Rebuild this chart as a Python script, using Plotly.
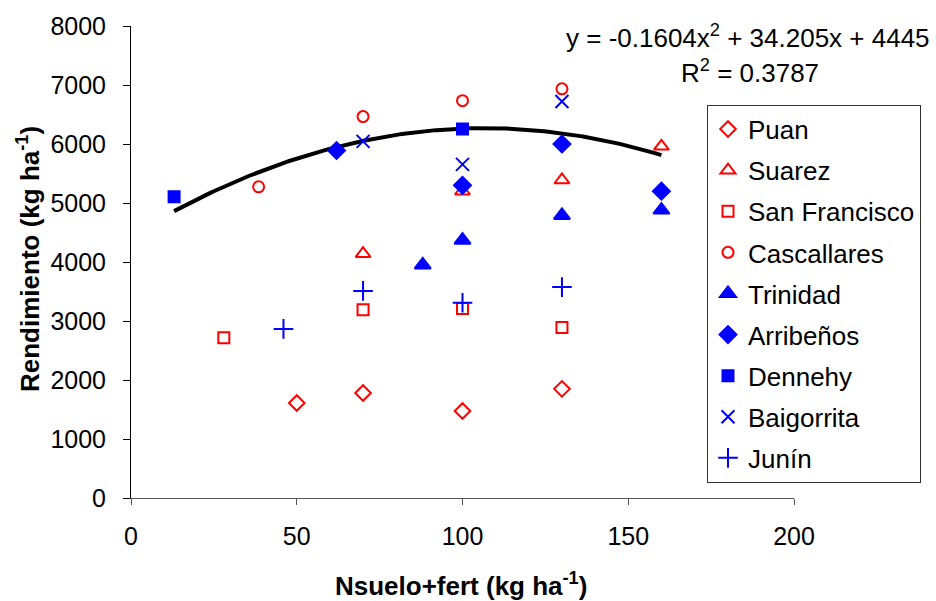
import numpy as np
import plotly.graph_objects as go

# Yield (kg/ha) against soil N + fertilizer N (kg/ha), by site
puan_x = [50, 70, 100, 130]
puan_y = [1610, 1780, 1475, 1850]
suarez_x = [70, 100, 130, 160]
suarez_y = [4140, 5200, 5390, 5960]
sanfco_x = [28, 70, 100, 130]
sanfco_y = [2715, 3190, 3210, 2890]
cascallares_x = [38.5, 70, 100, 130]
cascallares_y = [5275, 6465, 6735, 6935]
trinidad_x = [88, 100, 130, 160]
trinidad_y = [3950, 4370, 4790, 4880]
arribenos_x = [62, 100, 130, 160]
arribenos_y = [5890, 5300, 6000, 5200]
dennehy_x = [13, 100]
dennehy_y = [5105, 6255]
baigorrita_x = [70, 100, 130]
baigorrita_y = [6045, 5655, 6720]
junin_x = [46, 70, 100, 130]
junin_y = [2866, 3510, 3310, 3575]

# Quadratic trend coefficients (a*x^2 + b*x + c) and fit statistic
trend_coef = [-0.1604, 34.205, 4445]
trend_r2 = 0.3787

x_ticks = [0, 50, 100, 150, 200]
y_ticks = [0, 1000, 2000, 3000, 4000, 5000, 6000, 7000, 8000]

RED = "#FF0000"
BLUE = "#0000FF"
FONT = "Liberation Sans, Arial, sans-serif"

series = [
    ("Puan", puan_x, puan_y, "diamond-open", RED, 12),
    ("Suarez", suarez_x, suarez_y, "triangle-up-open", RED, 13),
    ("San Francisco", sanfco_x, sanfco_y, "square-open", RED, 11),
    ("Cascallares", cascallares_x, cascallares_y, "circle-open", RED, 11),
    ("Trinidad", trinidad_x, trinidad_y, "triangle-up", BLUE, 14),
    ("Arribeños", arribenos_x, arribenos_y, "diamond", BLUE, 13),
    ("Dennehy", dennehy_x, dennehy_y, "square", BLUE, 11),
    ("Baigorrita", baigorrita_x, baigorrita_y, "x-thin-open", BLUE, 13),
    ("Junín", junin_x, junin_y, "cross-thin-open", BLUE, 14),
]

fig = go.Figure()

# Trend curve over the observed N range
all_x = puan_x + suarez_x + sanfco_x + cascallares_x + trinidad_x + arribenos_x + dennehy_x + baigorrita_x + junin_x
tx = np.linspace(min(all_x), max(all_x), 200)
ty = np.polyval(trend_coef, tx)
fig.add_trace(go.Scatter(x=tx, y=ty, mode="lines", line=dict(color="black", width=4),
                         showlegend=False, hoverinfo="skip"))

for i, (name, xs, ys, sym, col, size) in enumerate(series):
    fig.add_trace(go.Scatter(
        x=xs, y=ys, mode="markers", name=name, legendgroup=f"g{i}",
        marker=dict(symbol=sym, size=size, color=col,
                    line=dict(color=col, width=2)),
    ))

W, H = 936, 601
L, R, T, B = 131, 142, 24, 103
pw, ph = W - L - R, H - T - B


def px(xp):
    return (xp - L) / pw


def py(yp):
    return (H - B - yp) / ph


a, b, c = trend_coef
eq_text = f"y = {a}x<sup>2</sup> + {b}x + {c}"
r2_text = f"R<sup>2</sup> = {trend_r2}"


def label(text, xp, yp, size=26, angle=0):
    return dict(text=text, x=px(xp), y=py(yp), xref="paper", yref="paper",
                xanchor="center", yanchor="middle", showarrow=False,
                textangle=angle, font=dict(size=size))


fig.update_layout(
    width=W, height=H, autosize=False,
    margin=dict(l=L, r=R, t=T, b=B, pad=0),
    paper_bgcolor="white", plot_bgcolor="white",
    font=dict(family=FONT, size=25, color="black"),
    xaxis=dict(range=[0, 200], tickvals=x_ticks, showgrid=False, zeroline=False,
               showline=True, linecolor="#555555", linewidth=1,
               ticks="outside", ticklen=6, tickcolor="#555555",
               tickfont=dict(size=25), ticklabelstandoff=10),
    yaxis=dict(range=[0, 8000], tickvals=y_ticks, showgrid=False, zeroline=False,
               showline=True, linecolor="black", linewidth=1,
               ticks="outside", ticklen=7, tickcolor="black",
               tickfont=dict(size=25), ticklabelstandoff=12),
    legend=dict(x=px(707), y=py(103), xanchor="left", yanchor="top",
                bordercolor="#333333", borderwidth=1, bgcolor="white",
                font=dict(size=26), tracegroupgap=4.3, itemwidth=30),
    showlegend=True,
    annotations=[
        label("<b>Nsuelo+fert (kg ha<sup>-1</sup>)</b>", 461, 585),
        label("<b>Rendimiento (kg ha<sup>-1</sup>)</b>", 28.5, 258.5, angle=-90),
        label(eq_text, 748, 35),
        label(r2_text, 750, 70),
    ],
)

fig.write_html("out.html")
